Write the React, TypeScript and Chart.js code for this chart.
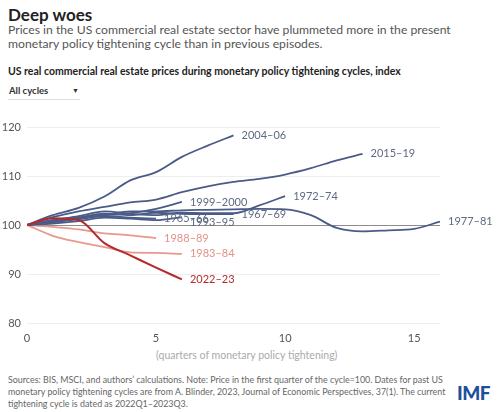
import React, { useEffect, useRef } from "react";
import { Chart, registerables } from "chart.js";

Chart.register(...registerables);

// Quarter index 0..n for each cycle, index = 100 in first quarter
const c2022_23 = [100, 101.4, 101, 96.3, 93.8, 91.3, 88.9];
const c2004_06 = [100, 102, 103.5, 105.8, 109.1, 110.8, 113.9, 116.2, 118.3];
const c2015_19 = [100, 101.6, 102.8, 103.7, 104.6, 105.2, 106.7, 107.9, 108.8, 109.4, 110.3, 111.6, 113.2, 114.5];
const c1999_2000 = [100, 101, 101.5, 102, 102.4, 103.3, 104.7];
const c1972_74 = [100, 101, 101.8, 102.8, 102.3, 102, 102.5, 102.4, 102.4, 104, 105.9];
const c1977_81 = [100, 100.7, 101.3, 102, 102.8, 102.8, 103, 103.1, 103.2, 103.3, 103.2, 102, 99.4, 98.7, 98.9, 99.2, 100.7];
const c1967_69 = [100, 100.8, 101.5, 102.3, 102, 102.5, 102.3, 102.2, 102.2];
const c1965_66 = [100, 100.5, 101.2, 101.8, 101.5, 101.3];
const c1993_95 = [100, 100.3, 100.8, 101.5, 101.3, 101, 101.6];
const c1988_89 = [100, 99.6, 99.1, 98.3, 97.9, 97.3];
const c1983_84 = [100, 97.8, 96.5, 95.5, 94.4, 94.3, 94.1];

const seriesNames = ["2022–23", "2004–06", "2015–19", "1999–2000", "1972–74", "1977–81", "1967–69", "1965–66", "1993–95", "1988–89", "1983–84"];
const seriesValues = [c2022_23, c2004_06, c2015_19, c1999_2000, c1972_74, c1977_81, c1967_69, c1965_66, c1993_95, c1988_89, c1983_84];

const xTicks = [0, 5, 10, 15];
const yTicks = [80, 90, 100, 110, 120];

const BLUE = "#4a5b87";
const BLUE_LABEL = "#5e6a82";
const RED = "#b52b2b";
const PINK = "#e8988f";
const PINK_LABEL = "#e3928a";

const lineColor = (name: string) =>
  name === "2022–23" ? RED : name === "1988–89" || name === "1983–84" ? PINK : BLUE;
const labelColor = (name: string) =>
  name === "2022–23" ? RED : name === "1988–89" || name === "1983–84" ? PINK_LABEL : BLUE_LABEL;
const labelDy: Record<string, number> = { "1993–95": 5 };

const FONT = "Lato, 'Noto Sans', sans-serif";

const endLabels = {
  id: "endLabels",
  afterDatasetsDraw(chart: any) {
    const ctx = chart.ctx;
    ctx.save();
    ctx.font = `11px ${FONT}`;
    ctx.textBaseline = "middle";
    ctx.textAlign = "left";
    chart.data.datasets.forEach((ds: any, i: number) => {
      const meta = chart.getDatasetMeta(i);
      const last = meta.data[meta.data.length - 1];
      if (!last) return;
      ctx.fillStyle = labelColor(ds.label);
      ctx.fillText(ds.label, last.x + 8, last.y + (labelDy[ds.label] || 0));
    });
    ctx.restore();
  },
};

function App() {
  const ref = useRef<HTMLCanvasElement | null>(null);
  useEffect(() => {
    document.body.style.margin = "0";
    if (!ref.current) return;
    const chart = new Chart(ref.current, {
      type: "line",
      data: {
        datasets: seriesNames.map((name, i) => ({
          label: name,
          data: seriesValues[i].map((v, q) => ({ x: q, y: v })),
          borderColor: lineColor(name),
          backgroundColor: lineColor(name),
          borderWidth: name === "2022–23" ? 2 : 1.8,
          pointRadius: 0,
          cubicInterpolationMode: "monotone" as const,
          fill: false,
        })),
      },
      options: {
        animation: false,
        responsive: false,
        maintainAspectRatio: false,
        layout: { padding: { top: 15, right: 60, left: 0, bottom: 0 } },
        plugins: { legend: { display: false }, tooltip: { enabled: false }, title: { display: false } },
        scales: {
          x: {
            type: "linear",
            min: 0,
            max: 16,
            afterBuildTicks: (s: any) => { s.ticks = xTicks.map((v) => ({ value: v })); },
            afterFit: (s: any) => { s.height = 24; },
            grid: { display: false },
            border: { display: false },
            ticks: { color: "#555", font: { family: FONT, size: 11 }, padding: 1 },
          },
          y: {
            min: 80,
            max: 120,
            afterBuildTicks: (s: any) => { s.ticks = yTicks.map((v) => ({ value: v })); },
            afterFit: (s: any) => { s.width = 27; },
            grid: {
              color: (c: any) => (c.tick && c.tick.value === 100 ? "#8c8c8c" : "#eeeeee"),
              lineWidth: 1,
              drawTicks: false,
            },
            border: { display: false },
            ticks: { color: "#555", font: { family: FONT, size: 11 }, padding: 6 },
          },
        },
      },
      plugins: [endLabels],
    });
    return () => chart.destroy();
  }, []);

  const abs = (top: number, left: number): React.CSSProperties => ({ position: "absolute", top, left, margin: 0, whiteSpace: "nowrap" });

  return (
    <div style={{ position: "relative", width: 500, height: 412, fontFamily: FONT, overflow: "hidden", background: "#fff" }}>
      <div style={{ ...abs(4, 8), fontSize: 17, fontWeight: 700, color: "#222" }}>Deep woes</div>
      <div style={{ ...abs(23, 8), fontSize: 12.2, color: "#555", lineHeight: "14px" }}>
        Prices in the US commercial real estate sector have plummeted more in the present
        <br />
        monetary policy tightening cycle than in previous episodes.
      </div>
      <div style={{ ...abs(65, 8), fontSize: 10.5, fontWeight: 700, color: "#222" }}>
        US real commercial real estate prices during monetary policy tightening cycles, index
      </div>
      <div style={{ ...abs(85, 9), fontSize: 9.5, fontWeight: 700, color: "#333" }}>All cycles</div>
      <div style={{ ...abs(86, 72), fontSize: 7, color: "#333" }}>▼</div>
      <div style={{ ...abs(99, 8), width: 72, height: 1, background: "#ddd" }} />
      <canvas ref={ref} width={500} height={235} style={{ ...abs(112, 0), width: 500, height: 235 }} />
      <div style={{ ...abs(349, 156), fontSize: 10.5, color: "#aaa" }}>(quarters of monetary policy tightening)</div>
      <div style={{ ...abs(374, 8), fontSize: 8.9, color: "#666", lineHeight: "12px" }}>
        Sources: BIS, MSCI, and authors’ calculations. Note: Price in the first quarter of the cycle=100. Dates for past US
        <br />
        monetary policy tightening cycles are from A. Blinder, 2023, Journal of Economic Perspectives, 37(1). The current
        <br />
        tightening cycle is dated as 2022Q1–2023Q3.
      </div>
      <div style={{ ...abs(381, 457), fontSize: 19, fontWeight: 900, color: "#1d4f9c", letterSpacing: "-0.5px" }}>IMF</div>
    </div>
  );
}

export default App;
